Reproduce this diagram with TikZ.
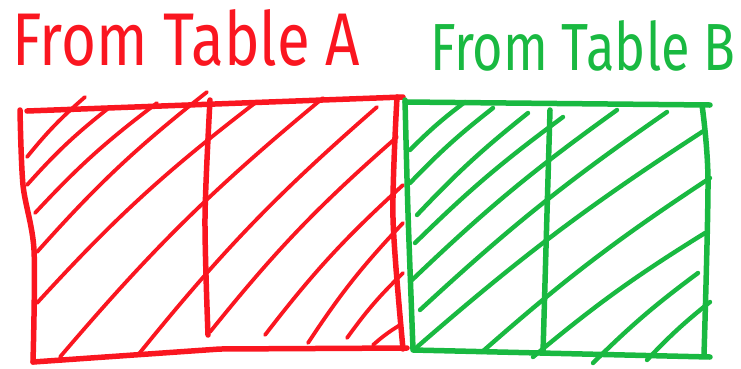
\documentclass[tikz,border=0pt]{standalone}
\usepackage{fontspec}
\setmainfont{Fira Sans}
\usetikzlibrary{calc}
\definecolor{mred}{RGB}{250,22,32}
\definecolor{mgreen}{RGB}{25,185,65}
\tikzset{
  rededge/.style={draw=mred, line width=5.5pt, line cap=round, line join=round},
  redhatch/.style={draw=mred, line width=3.8pt, line cap=round},
  greenedge/.style={draw=mgreen, line width=5.5pt, line cap=round, line join=round},
  greenhatch/.style={draw=mgreen, line width=4.4pt, line cap=round},
  title/.style={inner sep=0pt, anchor=base west, font=\mdseries}
}
\begin{document}
\begin{tikzpicture}[x=1pt,y=-1pt]
\useasboundingbox (0,0) rectangle (741,368);
% ---------- titles ----------
\node[title, text=mred] (ta) at (12,65) {\resizebox{348pt}{56pt}{From Table A}};
\node[title, text=mgreen] (tb) at (430,70) {\resizebox{305pt}{50pt}{From Table B}};
% ---------- red box ----------
\draw[redhatch] (27,157) to[bend left=5] (85,97);
\draw[redhatch] (27,185) to[bend left=5] (110,107);
\draw[redhatch] (35,213) to[bend left=5] (157,103);
\draw[redhatch] (37,252) to[bend left=5] (207,92);
\draw[redhatch] (37,303) to[bend left=5] (255,103);
\draw[redhatch] (60,357) to[bend left=5] (323,98);
\draw[redhatch] (138,355) to[bend left=5] (377,107);
\draw[redhatch] (210,332) to[bend left=5] (397,137);
\draw[redhatch] (265,335) to[bend left=5] (403,185);
\draw[redhatch] (308,343) to[bend left=5] (403,223);
\draw[redhatch] (347,338) to[bend left=5] (403,273);
\draw[redhatch] (373,345) to[bend left=5] (400,325);
\draw[rededge] (27,111) -- (403,97);
\draw[rededge] plot[smooth] coordinates {(20,110) (23,185) (34,250) (33,362)};
\draw[rededge] (33,362) -- (220,349) -- (407,348);
\draw[rededge] plot[smooth] coordinates {(397,97) (393,218) (403,349)};
\draw[rededge] plot[smooth] coordinates {(210,100) (205,218) (208,335)};
% ---------- green box ----------
\draw[greenhatch] (410,150) to[bend left=4] (465,102);
\draw[greenhatch] (410,183) to[bend left=4] (493,108);
\draw[greenhatch] (417,215) to[bend left=4] (528,113);
\draw[greenhatch] (415,243) to[bend left=4] (563,117);
\draw[greenhatch] (412,280) to[bend left=4] (617,110);
\draw[greenhatch] (420,310) to[bend left=4] (667,112);
\draw[greenhatch] (417,347) to[bend left=4] (705,130);
\draw[greenhatch] (482,352) to[bend left=4] (710,178);
\draw[greenhatch] (533,357) to[bend left=4] (705,233);
\draw[greenhatch] (593,363) to[bend left=4] (698,273);
\draw[greenhatch] (647,360) to[bend left=4] (710,302);
\draw[greenedge] plot[smooth] coordinates {(405,100) (408,213) (413,349)};
\draw[greenedge] (405,102) -- (710,105);
\draw[greenedge] plot[smooth] coordinates {(702,105) (708,180) (704,355)};
\draw[greenedge] (413,350) -- (710,357);
\draw[greenedge] plot[smooth] coordinates {(550,110) (547,213) (543,353)};
\end{tikzpicture}
\end{document}
